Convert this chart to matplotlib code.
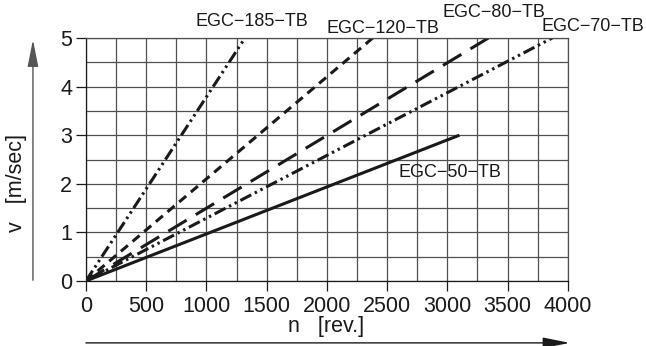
import matplotlib.pyplot as plt
from matplotlib.ticker import MultipleLocator

plt.rcParams['font.family'] = ['Liberation Sans', 'DejaVu Sans']

# line end points (all lines start at 0,0)
models = ['EGC\u2212185\u2212TB', 'EGC\u2212120\u2212TB', 'EGC\u221280\u2212TB',
          'EGC\u221270\u2212TB', 'EGC\u221250\u2212TB']
n_end = [1320, 2380, 3340, 3870, 3100]
v_end = [5, 5, 5, 5, 3]

styles = [(0, (4, 1.3, 0.8, 1.3, 0.8, 1.3)),
          (0, (3, 2)),
          (0, (7, 3.5)),
          (0, (4, 1.3, 0.8, 1.3, 0.8, 1.3)),
          '-']

fig = plt.figure(figsize=(6.46, 3.46), dpi=100)
ax = fig.add_axes([0.133, 0.188, 0.746, 0.702])

for m, n, v, ls in zip(models, n_end, v_end, styles):
    ax.plot([0, n], [0, v], color='#1a1a1a', lw=2.2, linestyle=ls, solid_capstyle='butt')

ax.set_xlim(0, 4000)
ax.set_ylim(0, 5)
ax.xaxis.set_major_locator(MultipleLocator(500))
ax.xaxis.set_minor_locator(MultipleLocator(250))
ax.yaxis.set_major_locator(MultipleLocator(1))
ax.yaxis.set_minor_locator(MultipleLocator(0.5))
ax.grid(True, which='both', color='#505050', lw=0.9)
ax.tick_params(which='major', direction='out', length=7, width=0.9, labelsize=15.5,
               colors='#1a1a1a', pad=3)
ax.tick_params(axis='x', pad=4)
ax.tick_params(which='minor', length=0)
for s in ax.spines.values():
    s.set_color('#505050')
    s.set_linewidth(0.9)
ax.spines['left'].set_color('#1a1a1a')
ax.spines['bottom'].set_color('#1a1a1a')

# line labels
lab = dict(fontsize=13, color='#1a1a1a', ha='center', va='center', clip_on=False)
ax.text(1378, 5.35, models[0], **lab)
ax.text(2465, 5.2, models[1], **lab)
ax.text(3386, 5.53, models[2], **lab)
ax.text(4207, 5.23, models[3], **lab)
ax.text(3020, 2.24, models[4], **lab)

# axis labels with arrows
fig.text(0.026, 0.47, 'v   [m/sec]', rotation=90, fontsize=15.5, ha='center', va='center', color='#1a1a1a')
fig.text(0.505, 0.055, 'n   [rev.]', fontsize=15.5, ha='center', va='center', color='#1a1a1a')
fig.add_artist(plt.Annotation('', xy=(0.051, 0.885), xytext=(0.051, 0.19),
                              xycoords='figure fraction',
                              arrowprops=dict(arrowstyle='-|>,head_length=1.1,head_width=0.22',
                                              color='#555555', lw=1,
                                              mutation_scale=15, shrinkA=0, shrinkB=0)))
fig.add_artist(plt.Annotation('', xy=(0.882, 0.009), xytext=(0.133, 0.009),
                              xycoords='figure fraction',
                              arrowprops=dict(arrowstyle='-|>,head_length=1.1,head_width=0.22',
                                              color='#1a1a1a', lw=1,
                                              mutation_scale=15, shrinkA=0, shrinkB=0)))

fig.savefig('out.png', dpi=100)
